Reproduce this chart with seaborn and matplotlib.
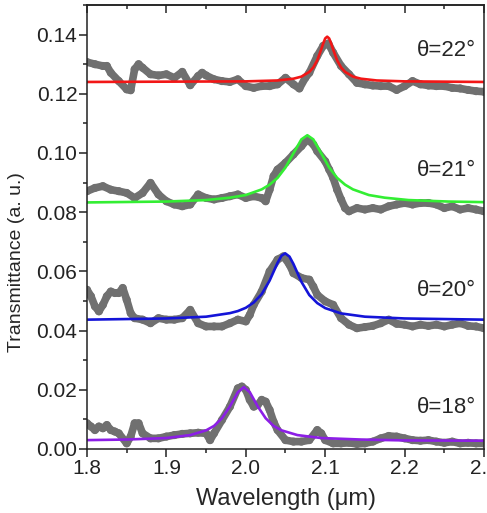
import numpy as np
import pandas as pd
import matplotlib
matplotlib.use('Agg')
import matplotlib.pyplot as plt
from matplotlib.ticker import MultipleLocator
import seaborn as sns

# measured data (gray) for each angle
x22 = [1.80, 1.81, 1.82, 1.825, 1.83, 1.84, 1.85, 1.855, 1.86, 1.865, 1.87, 1.88, 1.89, 1.90, 1.91, 1.92,
       1.93, 1.94, 1.945, 1.95, 1.96, 1.97, 1.98, 1.99, 2.00, 2.01, 2.02, 2.03, 2.04, 2.05, 2.06, 2.0675,
       2.075, 2.08, 2.09, 2.0975, 2.104, 2.11, 2.12, 2.13, 2.14, 2.15, 2.16, 2.17, 2.18, 2.19, 2.20, 2.21,
       2.22, 2.23, 2.24, 2.25, 2.26, 2.27, 2.28, 2.29, 2.30]
y22 = [.1307, .1300, .1294, .1294, .1271, .1243, .1215, .1212, .1283, .1300, .1288, .1266, .1262, .1266, .1254, .1274,
       .1229, .1260, .1271, .1262, .1249, .1243, .1240, .1249, .1226, .1220, .1226, .1226, .1232, .1254, .1232, .1218,
       .1254, .1271, .1328, .1362, .1370, .1339, .1294, .1266, .1237, .1232, .1228, .1226, .1226, .1213, .1226, .1243,
       .1232, .1228, .1226, .1226, .1220, .1218, .1213, .1209, .1207]

x21 = [1.80, 1.81, 1.82, 1.83, 1.84, 1.85, 1.86, 1.87, 1.88, 1.89, 1.90, 1.91, 1.92, 1.93, 1.94, 1.95,
       1.96, 1.97, 1.98, 1.99, 2.00, 2.01, 2.02, 2.025, 2.03, 2.035, 2.04, 2.05, 2.06, 2.07, 2.0775, 2.085,
       2.09, 2.10, 2.105, 2.11, 2.115, 2.12, 2.125, 2.13, 2.14, 2.15, 2.16, 2.17, 2.18, 2.19, 2.20, 2.21,
       2.22, 2.23, 2.24, 2.25, 2.26, 2.27, 2.28, 2.29, 2.30]
y21 = [.0871, .0882, .0888, .0876, .0871, .0865, .0848, .0865, .0899, .0860, .0837, .0826, .0820, .0826, .0860, .0848,
       .0843, .0848, .0854, .0860, .0848, .0854, .0848, .0837, .0876, .0922, .0944, .0967, .0995, .1023, .1046, .1029,
       .1006, .0972, .0944, .0916, .0876, .0843, .0814, .0803, .0814, .0809, .0814, .0809, .0820, .0826, .0831, .0826,
       .0831, .0831, .0826, .0814, .0820, .0809, .0814, .0809, .0803]

x20 = [1.80, 1.805, 1.81, 1.815, 1.82, 1.825, 1.83, 1.835, 1.84, 1.845, 1.85, 1.855, 1.86, 1.87, 1.88, 1.89,
       1.90, 1.91, 1.92, 1.93, 1.94, 1.95, 1.96, 1.97, 1.98, 1.99, 2.00, 2.005, 2.01, 2.02, 2.03, 2.04,
       2.0475, 2.055, 2.06, 2.07, 2.08, 2.085, 2.09, 2.10, 2.11, 2.12, 2.13, 2.14, 2.15, 2.16, 2.17, 2.18,
       2.19, 2.20, 2.21, 2.22, 2.23, 2.24, 2.25, 2.26, 2.27, 2.28, 2.29, 2.30]
y20 = [.0538, .0516, .0482, .0465, .0487, .0516, .0532, .0527, .0527, .0544, .0504, .0459, .0442, .0437, .0425, .0442,
       .0437, .0437, .0442, .0470, .0425, .0414, .0414, .0414, .0425, .0437, .0431, .0453, .0487, .0532, .0600, .0640,
       .0651, .0623, .0594, .0578, .0572, .0549, .0521, .0499, .0487, .0442, .0420, .0408, .0412, .0416, .0425, .0437,
       .0423, .0420, .0414, .0420, .0416, .0420, .0414, .0420, .0425, .0416, .0414, .0408]

x18 = [1.80, 1.805, 1.81, 1.815, 1.82, 1.825, 1.83, 1.835, 1.84, 1.85, 1.855, 1.86, 1.865, 1.87, 1.88, 1.89,
       1.90, 1.91, 1.92, 1.93, 1.94, 1.95, 1.955, 1.96, 1.97, 1.98, 1.99, 1.995, 2.00, 2.005, 2.01, 2.015,
       2.02, 2.025, 2.03, 2.035, 2.04, 2.05, 2.06, 2.07, 2.08, 2.09, 2.095, 2.10, 2.11, 2.12, 2.13, 2.14,
       2.15, 2.16, 2.17, 2.18, 2.19, 2.20, 2.21, 2.22, 2.23, 2.24, 2.25, 2.26, 2.27, 2.28, 2.29, 2.30]
y18 = [.0087, .0076, .0064, .0076, .0070, .0081, .0064, .0059, .0053, .0019, .0042, .0087, .0087, .0053, .0036, .0036,
       .0042, .0047, .0051, .0053, .0055, .0053, .0030, .0053, .0098, .0143, .0205, .0211, .0200, .0166, .0143, .0149,
       .0166, .0160, .0132, .0092, .0064, .0030, .0025, .0025, .0030, .0064, .0053, .0030, .0019, .0019, .0021, .0017,
       .0019, .0025, .0036, .0044, .0042, .0036, .0030, .0028, .0030, .0025, .0021, .0025, .0019, .0021, .0019, .0019]

# fitted curves
fx22 = [1.80, 1.90, 2.00, 2.04, 2.06, 2.07, 2.08, 2.085, 2.09, 2.095, 2.0975, 2.10, 2.1025, 2.105, 2.1075,
        2.11, 2.115, 2.12, 2.125, 2.135, 2.145, 2.165, 2.20, 2.30]
fy22 = [.1240, .1241, .1242, .1245, .1251, .1258, .1274, .1289, .1313, .1350, .1370, .1387, .1393, .1387, .1370,
        .1350, .1313, .1289, .1274, .1258, .1251, .1245, .1242, .1240]

fx21 = [1.80, 1.90, 1.95, 1.98, 2.00, 2.02, 2.03, 2.04, 2.05, 2.06, 2.07, 2.0775, 2.085, 2.095, 2.105,
        2.115, 2.125, 2.135, 2.155, 2.175, 2.205, 2.255, 2.30]
fy21 = [.0833, .0836, .0841, .0849, .0858, .0877, .0893, .0916, .0951, .0999, .1046, .1060, .1046, .0999, .0951,
        .0916, .0893, .0877, .0858, .0849, .0841, .0836, .0834]

fx20 = [1.80, 1.90, 1.95, 1.98, 1.99, 2.00, 2.01, 2.02, 2.03, 2.04, 2.045, 2.0496, 2.055, 2.06, 2.07,
        2.08, 2.09, 2.10, 2.12, 2.15, 2.20, 2.30]
fy20 = [.0437, .0441, .0447, .0459, .0466, .0477, .0495, .0523, .0569, .0629, .0653, .0661, .0650, .0625, .0565,
        .0520, .0493, .0476, .0458, .0447, .0441, .0437]

fx18 = [1.80, 1.85, 1.90, 1.93, 1.95, 1.96, 1.97, 1.98, 1.99, 1.9975, 2.005, 2.015, 2.025, 2.035, 2.045,
        2.065, 2.095, 2.145, 2.20, 2.30]
fy18 = [.0030, .0032, .0037, .0047, .0063, .0078, .0104, .0144, .0192, .0209, .0192, .0144, .0104, .0078, .0063,
        .0047, .0037, .0032, .0029, .0028]

labels = ['θ=22°', 'θ=21°', 'θ=20°', 'θ=18°']
label_y = [0.1345, 0.0940, 0.0535, 0.0140]
fit_colors = ['#f21616', '#33ee33', '#1414d8', '#8c1ee6']

sns.set_style('ticks')
plt.rcParams['font.family'] = ['Liberation Sans', 'DejaVu Sans']
plt.rcParams['axes.linewidth'] = 1.1
plt.rcParams['axes.edgecolor'] = '#222222'

fig = plt.figure(figsize=(4.87, 5.13), dpi=100)
ax = fig.add_axes([87 / 487, 1 - 449 / 513, 397 / 487, 444 / 513])

gray = '#707070'
for xs, ys in [(x22, y22), (x21, y21), (x20, y20), (x18, y18)]:
    d = pd.DataFrame({'x': xs, 'y': ys})
    sns.lineplot(data=d, x='x', y='y', ax=ax, color=gray, lw=5.5, sort=False,
                 estimator=None, solid_capstyle='round', solid_joinstyle='round')
    sns.scatterplot(data=d, x='x', y='y', ax=ax, color=gray, s=34, edgecolor='none')

for (xs, ys), c in zip([(fx22, fy22), (fx21, fy21), (fx20, fy20), (fx18, fy18)], fit_colors):
    d = pd.DataFrame({'x': xs, 'y': ys})
    sns.lineplot(data=d, x='x', y='y', ax=ax, color=c, lw=1.9, sort=False, estimator=None)

for t, yy in zip(labels, label_y):
    ax.text(2.290, yy, t, ha='right', va='center', fontsize=16)

ax.set_xlim(1.8, 2.3)
ax.set_ylim(0, 0.15)
ax.xaxis.set_minor_locator(MultipleLocator(0.05))
ax.yaxis.set_minor_locator(MultipleLocator(0.01))
ax.set_xticks([1.8, 1.9, 2.0, 2.1, 2.2, 2.3])
ax.set_xticklabels(['1.8', '1.9', '2.0', '2.1', '2.2', '2.3'])
ax.set_yticks([0.0, 0.02, 0.04, 0.06, 0.08, 0.10, 0.12, 0.14])
ax.set_yticklabels(['0.00', '0.02', '0.04', '0.06', '0.08', '0.10', '0.12', '0.14'])
ax.tick_params(axis='both', which='major', direction='out', length=5.5, width=1.1, pad=1.5,
               labelsize=15, colors='#222222')
ax.tick_params(axis='both', which='minor', direction='out', length=3, width=1.1, colors='#222222')

# ticks mirrored inward on top
top = ax.secondary_xaxis('top')
top.xaxis.set_major_locator(MultipleLocator(0.1))
top.xaxis.set_minor_locator(MultipleLocator(0.05))
top.tick_params(which='major', direction='in', length=6, width=1.1, labeltop=False)
top.tick_params(which='minor', direction='in', length=3, width=1.1)

ax.set_xlabel('Wavelength (μm)', fontsize=17, va='top')
ax.set_ylabel('Transmittance (a. u.)', fontsize=14)
ax.xaxis.set_label_coords(0.5, -0.088)
ax.yaxis.set_label_coords(-0.155, 0.42)

fig.savefig('out.png', dpi=100)
